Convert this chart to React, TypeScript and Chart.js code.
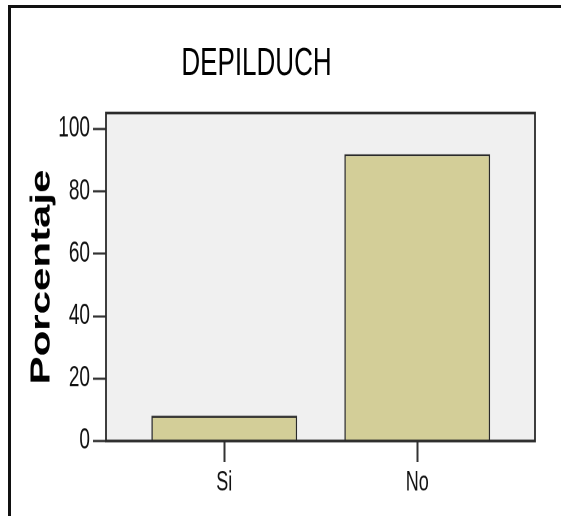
import { useEffect, useRef } from 'react';
import { Chart, registerables } from 'chart.js';

Chart.register(...registerables);

const categories = ['Si', 'No'];
const percentages = [8.1, 91.9];
const yTickValues = [0, 20, 40, 60, 80, 100];
const chartTitle = 'DEPILDUCH';
const yAxisTitle = 'Porcentaje';

const W = 561;
const H = 516;
const STRETCH = 1.5;
const CH = Math.round(H / STRETCH);
const FONT = "'Liberation Sans', Arial, Helvetica, sans-serif";

const plotFrame = {
  id: 'plotFrame',
  beforeDatasetsDraw(chart: any) {
    const { ctx, chartArea: a } = chart;
    ctx.save();
    ctx.fillStyle = '#f0f0f0';
    ctx.fillRect(a.left, a.top, a.right - a.left, a.bottom - a.top);
    ctx.restore();
  },
  afterDatasetsDraw(chart: any) {
    const { ctx, chartArea: a } = chart;
    ctx.save();
    ctx.strokeStyle = '#2a2a2a';
    ctx.lineWidth = 1.8;
    ctx.strokeRect(a.left, a.top, a.right - a.left, a.bottom - a.top);
    ctx.restore();
  },
};

export default function App() {
  const ref = useRef<HTMLCanvasElement | null>(null);

  useEffect(() => {
    if (!ref.current) return;
    const chart = new Chart(ref.current, {
      type: 'bar',
      data: {
        datasets: [
          {
            data: percentages.map((v, i) => ({ x: i, y: v })),
            backgroundColor: '#d3ce98',
            borderColor: '#2a2a2a',
            borderWidth: 1.4,
            categoryPercentage: 1,
            barPercentage: 0.755,
          },
        ],
      },
      plugins: [plotFrame],
      options: {
        animation: false,
        responsive: false,
        devicePixelRatio: 2,
        layout: { padding: { left: -22, right: 26, top: 0, bottom: 10 } },
        plugins: {
          legend: { display: false },
          tooltip: { enabled: false },
          title: {
            display: true,
            text: chartTitle,
            color: '#000000',
            font: { family: FONT, size: 26, weight: 'normal' },
            padding: { top: 27.2, bottom: 16.9 },
          },
        },
        scales: {
          x: {
            type: 'linear',
            offset: false,
            min: -0.613,
            max: 1.61,
            afterBuildTicks: (s: any) => {
              s.ticks = categories.map((_, i) => ({ value: i }));
            },
            afterFit: (s: any) => {
              s.height = 40;
            },
            ticks: {
              callback: (v: any) => categories[v] ?? '',
              color: '#111111',
              font: { family: FONT, size: 18 },
              padding: 3,
              maxRotation: 0,
              autoSkip: false,
            },
            grid: {
              offset: false,
              drawOnChartArea: false,
              drawTicks: true,
              tickLength: 14,
              tickColor: '#333333',
              tickWidth: 2,
            },
            border: { display: false },
          },
          y: {
            type: 'linear',
            min: 0,
            max: 105.1,
            afterBuildTicks: (s: any) => {
              s.ticks = yTickValues.map((v) => ({ value: v }));
            },
            afterFit: (s: any) => {
              s.width = 128;
            },
            ticks: {
              color: '#111111',
              font: { family: FONT, size: 19 },
              padding: 3,
            },
            grid: {
              drawOnChartArea: false,
              drawTicks: true,
              tickLength: 13,
              tickColor: '#333333',
              tickWidth: 1.5,
            },
            border: { display: false },
            title: {
              display: true,
              text: yAxisTitle,
              color: '#000000',
              font: { family: FONT, size: 28, weight: 'bold' },
              padding: { top: 47.2, bottom: 0 },
            },
          },
        },
      },
    } as any);
    return () => chart.destroy();
  }, []);

  return (
    <div
      style={{
        position: 'fixed',
        left: 0,
        top: 0,
        width: W,
        height: H,
        overflow: 'hidden',
        background: '#ffffff',
      }}
    >
      <canvas
        ref={ref}
        width={W}
        height={CH}
        style={{
          position: 'absolute',
          left: 0,
          top: 0,
          width: W + 'px',
          height: CH + 'px',
          transform: `scaleY(${H / CH})`,
          transformOrigin: '0 0',
        }}
      />
      <div
        style={{
          position: 'absolute',
          left: 8,
          top: 5,
          width: W,
          height: H,
          borderLeft: '3px solid #111',
          borderTop: '3px solid #111',
          pointerEvents: 'none',
        }}
      />
    </div>
  );
}
